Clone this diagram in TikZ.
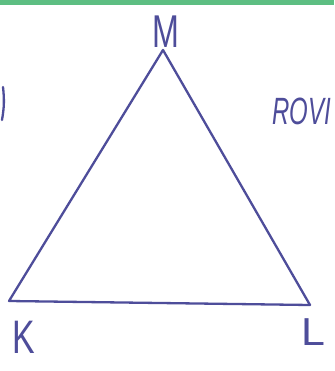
\documentclass[tikz,border=0pt]{standalone}
\usepackage{fontspec}
\setmainfont{Liberation Sans}
\begin{document}
\begin{tikzpicture}[x=1pt,y=-1pt,
  ink/.style={draw=inkc, line width=2.3pt, line cap=round, line join=round},
  lbl/.style={text=inkc, inner sep=0pt}]
\definecolor{inkc}{HTML}{4E4D9A}
\definecolor{strip}{HTML}{5DBE82}
\useasboundingbox (0,0) rectangle (334,371);
\fill[white] (0,0) rectangle (334,371);
\fill[strip] (0,0) rectangle (334,5);
\coordinate (K) at (9,301);
\coordinate (L) at (310,305);
\coordinate (M) at (163,50);
\draw[ink] (K) -- (M) -- (L) -- cycle;
\node[lbl, anchor=base, font=\fontsize{46}{46}\selectfont] (lM) at (166,48) {\scalebox{0.7}[1]{M}};
\node[lbl, anchor=base, font=\fontsize{47}{47}\selectfont] (lK) at (24,353) {\scalebox{0.72}[1]{K}};
\node[lbl, anchor=base, font=\fontsize{39}{39}\selectfont] (lL) at (313,345) {\scalebox{1.1}[1]{L}};
\node[lbl, anchor=base west, font=\itshape\fontsize{38}{38}\selectfont] (rovi) at (272,125) {\scalebox{0.63}[1]{ROVI}};
\coordinate (s1) at (3,87);
\coordinate (s2) at (2,120);
\draw[ink] (s1) to[bend left=8] (s2);
\end{tikzpicture}
\end{document}
